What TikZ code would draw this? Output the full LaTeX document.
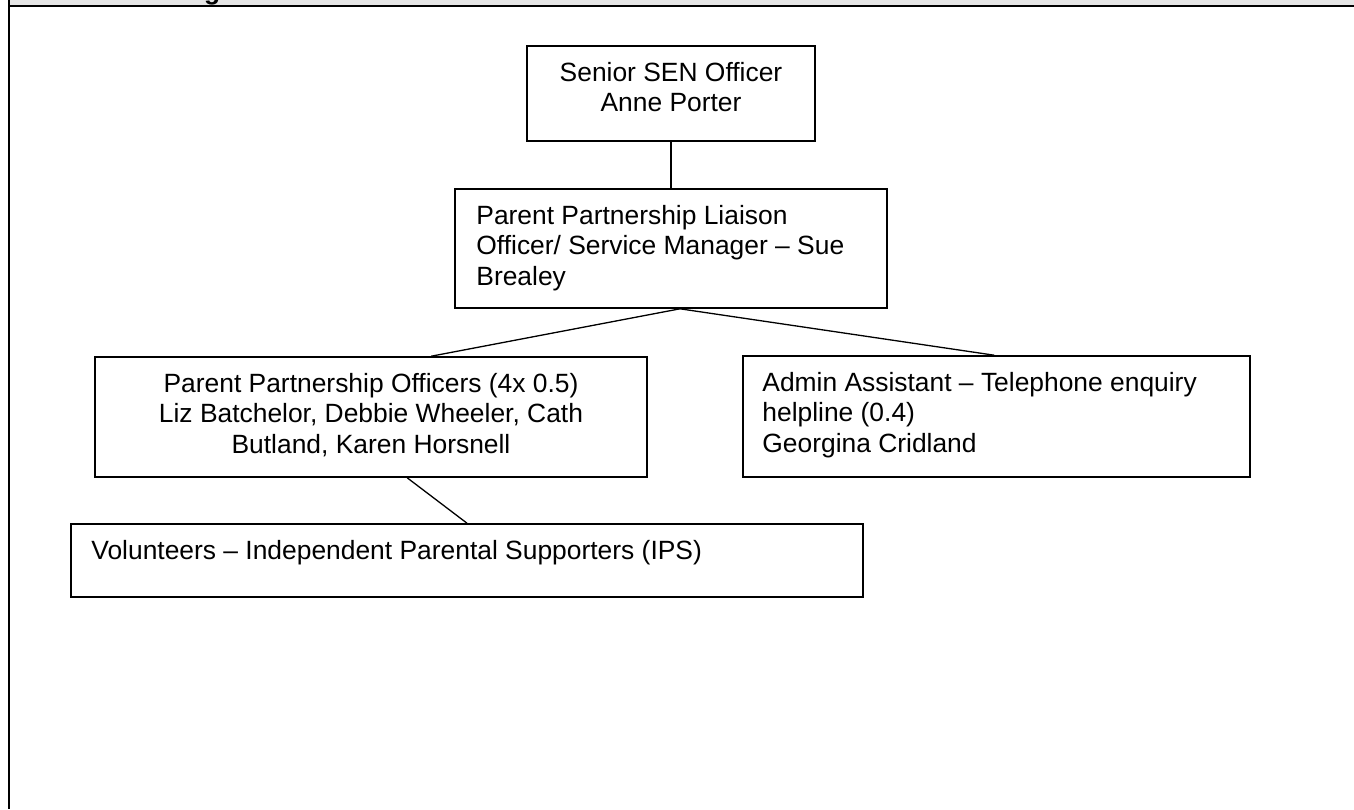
\documentclass[tikz,border=0pt]{standalone}
\usepackage{fontspec}
\setmainfont{Liberation Sans}
\usetikzlibrary{calc}
\definecolor{stripgrey}{HTML}{E5E5E5}
\tikzset{
  box/.style={draw=black, line width=1.6pt, inner sep=0pt, fill=white},
  txt/.style={inner sep=0pt, font=\fontsize{26.4}{30.5}\selectfont},
  link/.style={draw=black, line width=1.3pt},
  rule/.style={draw=black, line width=2pt}
}
\begin{document}
\begin{tikzpicture}[x=1pt, y=-1pt]
  \useasboundingbox (0,0) rectangle (1354,809);
  \fill[white] (0,0) rectangle (1354,809);

  % page header strip with the bottom of the heading text
  \fill[stripgrey] (9,0) rectangle (1354,5);
  \begin{scope}
    \clip (9,0) rectangle (1354,5);
    \node[inner sep=0pt, anchor=base west, font=\fontsize{26.4}{30}\selectfont\bfseries] (hd) at (204,-1) {g};
  \end{scope}
  \draw[rule] (8,5.7) -- (1354,5.7);
  \draw[draw=black, line width=2.4pt] (9,0) -- (9,809);

  % boxes
  \node[box, minimum width=288pt, minimum height=95pt] (b1) at (671,93.5) {};
  \node[box, minimum width=432pt, minimum height=119pt] (b2) at (671,248.5) {};
  \node[box, minimum width=552pt, minimum height=120pt] (b3) at (371,417) {};
  \node[box, minimum width=507pt, minimum height=121pt] (b4) at (996.5,416.5) {};
  \node[box, minimum width=792pt, minimum height=73pt] (b5) at (467,560.5) {};

  % texts (the base anchor sits on the last line)
  \node[txt, anchor=base, align=center] (t1) at ($(b1.north)+(0,66.5)$)
    {Senior SEN Officer\\Anne Porter};
  \node[txt, anchor=base west, align=left] (t2) at ($(b2.north west)+(22,97)$)
    {Parent Partnership Liaison\\Officer/ Service Manager -- Sue\\Brealey};
  \node[txt, anchor=base, align=center] (t3) at ($(b3.north)+(0,97)$)
    {Parent Partnership Officers (4x 0.5)\\Liz Batchelor, Debbie Wheeler, Cath\\Butland, Karen Horsnell};
  \node[txt, anchor=base west, align=left] (t4) at ($(b4.north west)+(20,97)$)
    {Admin Assistant -- Telephone enquiry\\helpline (0.4)\\Georgina Cridland};
  \node[txt, anchor=base west, align=left] (t5) at ($(b5.north west)+(21,36)$)
    {Volunteers -- Independent Parental Supporters (IPS)};

  % connectors
  \coordinate (fork) at ($(b2.south)+(9,0)$);
  \coordinate (b3top) at ($(b3.north west)+(337,0)$);
  \coordinate (b4top) at ($(b4.north west)+(252,0)$);
  \coordinate (b3bot) at ($(b3.south west)+(313,0)$);
  \draw[link] (b1.south) -- (b2.north);
  \draw[link] (fork) -- (b3top);
  \draw[link] (fork) -- (b4top);
  \draw[link] (b3bot) -- (b5.north);
\end{tikzpicture}
\end{document}
